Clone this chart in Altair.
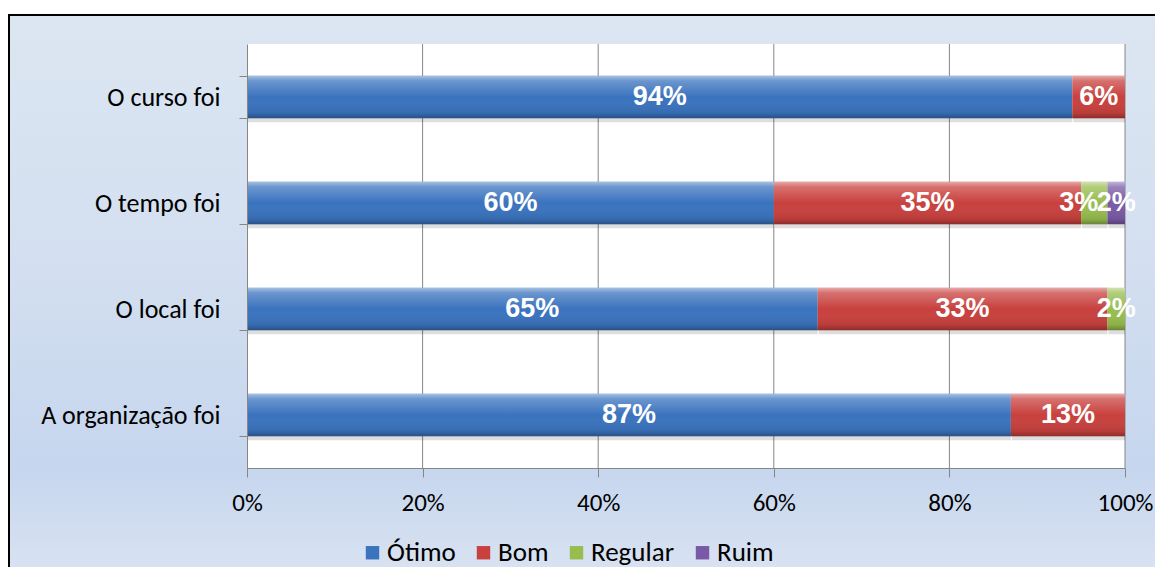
import altair as alt
import pandas as pd

# ---- data ----
categories = ["O curso foi", "O tempo foi", "O local foi", "A organização foi"]
series = ["Ótimo", "Bom", "Regular", "Ruim"]
otimo = [94, 60, 65, 87]
bom = [6, 35, 33, 13]
regular = [0, 3, 2, 0]
ruim = [0, 2, 0, 0]
x_ticks = [0, 20, 40, 60, 80, 100]
grid_vals = [20, 40, 60, 80, 100]
colors = ["#3A73BE", "#C8413E", "#97BD4E", "#7A5AA6"]

rows = []
for i, c in enumerate(categories):
    for k, vals in enumerate([otimo, bom, regular, ruim]):
        if vals[i] > 0:
            rows.append({"cat": c, "serie": series[k], "valor": vals[i], "ordem": k})
df = pd.DataFrame(rows)

W, H = 878, 424
FONT = "Carlito, Lato"

xscale = alt.Scale(domain=[0, 100], nice=False, zero=True)
yscale = alt.Scale(domain=categories, paddingInner=0.6, paddingOuter=0.3)

base = (
    alt.Chart(df)
    .transform_stack(stack="valor", as_=["x0", "x1"], groupby=["cat"],
                     sort=[alt.SortField("ordem", order="ascending")])
    .transform_calculate(mid="(datum.x0 + datum.x1) / 2",
                         lbl="datum.valor + '%'",
                         crowded="datum.valor < 5 && datum.x1 < 100")
)

one = pd.DataFrame({"k": [0]})

bg = alt.Chart(one).mark_rect(
    fill=alt.Gradient(
        gradient="linear", x1=0, y1=0, x2=0, y2=1,
        stops=[alt.GradientStop(offset=0, color="#DCE6F2"),
               alt.GradientStop(offset=0.4, color="#D3DFF0"),
               alt.GradientStop(offset=0.72, color="#C6D6EE"),
               alt.GradientStop(offset=0.88, color="#D8E2F1"),
               alt.GradientStop(offset=1, color="#DCE6F2")]),
    stroke="black", strokeWidth=2,
).encode(x=alt.value(-238), x2=alt.value(960), y=alt.value(-29), y2=alt.value(600))

plotbg = alt.Chart(one).mark_rect(fill="white").encode(
    x=alt.value(0), x2=alt.value(W), y=alt.value(0), y2=alt.value(H))

grid = alt.Chart(pd.DataFrame({"g": grid_vals})).mark_rule(
    color="#868686", strokeWidth=1
).encode(x=alt.X("g:Q", scale=xscale, title=None))

shadow = base.mark_bar(fill="rgba(0,0,0,0.13)", yOffset=4, xOffset=1).encode(
    x=alt.X("x0:Q", scale=xscale, title=None),
    x2="x1:Q",
    y=alt.Y("cat:N", scale=yscale, sort=categories, title=None),
)

bars = base.mark_bar(cornerRadius=0).encode(
    x=alt.X("x0:Q", scale=xscale, title=None,
            axis=alt.Axis(values=x_ticks, labelExpr="datum.value + '%'", grid=False,
                          labelFlush=False, tickSize=9, labelPadding=13,
                          labelFontSize=25, labelFont=FONT,
                          labelColor="black", domainColor="#868686", tickColor="#868686",
                          zindex=1)),
    x2="x1:Q",
    y=alt.Y("cat:N", scale=yscale, sort=categories, title=None,
            axis=alt.Axis(tickBand="extent", tickSize=8, labelPadding=19,
                          labelFontSize=26, labelFont=FONT, labelColor="black",
                          domainColor="#868686", tickColor="#868686", zindex=1)),
    color=alt.Color("serie:N", scale=alt.Scale(domain=series, range=colors),
                    legend=alt.Legend(orient="none", legendX=112, legendY=495,
                                      direction="horizontal", title=None,
                                      symbolType="square", symbolSize=180,
                                      symbolStrokeWidth=0, labelFontSize=27,
                                      labelFont=FONT, labelColor="black",
                                      labelOffset=1, columnPadding=14)),
)

gloss = base.mark_bar(
    fill=alt.Gradient(
        gradient="linear", x1=0, y1=0, x2=0, y2=1,
        stops=[alt.GradientStop(offset=0, color="rgba(255,255,255,0.55)"),
               alt.GradientStop(offset=0.12, color="rgba(255,255,255,0.25)"),
               alt.GradientStop(offset=0.5, color="rgba(255,255,255,0.0)"),
               alt.GradientStop(offset=0.88, color="rgba(0,0,0,0.08)"),
               alt.GradientStop(offset=1, color="rgba(0,0,0,0.3)")]),
).encode(
    x=alt.X("x0:Q", scale=xscale, title=None),
    x2="x1:Q",
    y=alt.Y("cat:N", scale=yscale, sort=categories, title=None),
)

text_enc = dict(
    x=alt.X("mid:Q", scale=xscale, title=None),
    y=alt.Y("cat:N", scale=yscale, sort=categories, title=None),
    text="lbl:N",
)
text_main = base.transform_filter("!datum.crowded").mark_text(
    color="white", fontWeight="bold", fontSize=27, font="Liberation Sans",
    align="center", baseline="middle",
).encode(**text_enc)
text_crowded = base.transform_filter("datum.crowded").mark_text(
    color="white", fontWeight="bold", fontSize=27, font="Liberation Sans",
    align="right", baseline="middle", dx=4,
).encode(**text_enc)

chart = (
    alt.layer(bg, plotbg, grid, shadow, bars, gloss, text_main, text_crowded)
    .properties(width=W, height=H, autosize="none",
                padding={"left": 239, "top": 36, "right": 30, "bottom": 99})
    .configure_view(stroke=None)
    .configure(background="white")
)

chart.save("out.html", embed_options={"renderer": "svg", "actions": False})
